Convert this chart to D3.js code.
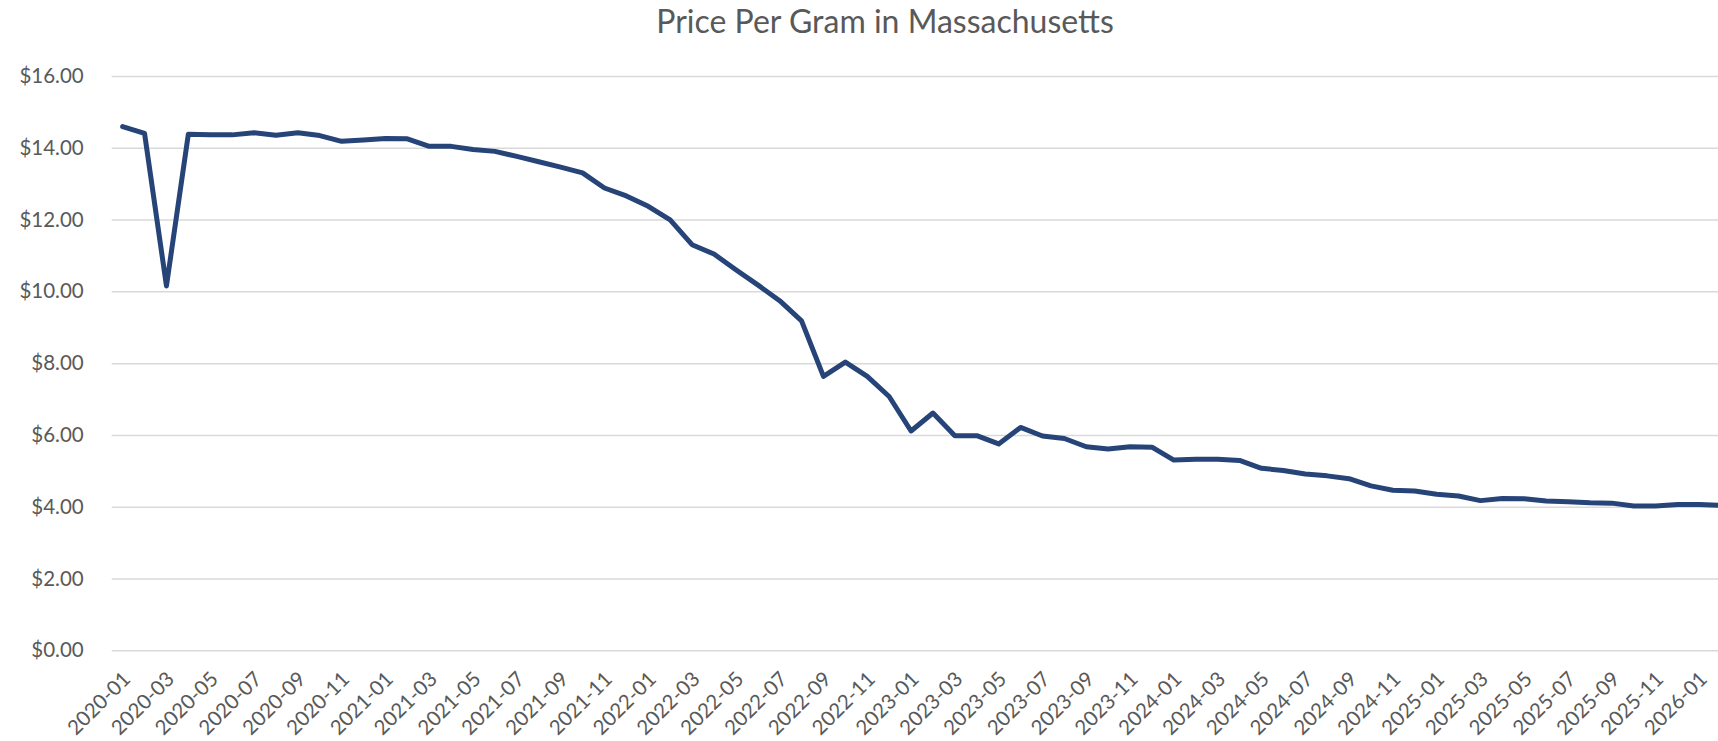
<!DOCTYPE html>
<html>
<head>
<meta charset="utf-8">
<script src="https://cdn.jsdelivr.net/npm/d3@7"></script>
<style>
  body { margin: 0; background: #fff; }
  text { font-family: Lato, "Open Sans", sans-serif; fill: #595959; }
</style>
</head>
<body>
<div id="chart"></div>
<script>
// months shown on the category axis
const months = [
    '2020-01','2020-02','2020-03','2020-04','2020-05','2020-06','2020-07','2020-08','2020-09','2020-10','2020-11','2020-12',
    '2021-01','2021-02','2021-03','2021-04','2021-05','2021-06','2021-07','2021-08','2021-09','2021-10','2021-11','2021-12',
    '2022-01','2022-02','2022-03','2022-04','2022-05','2022-06','2022-07','2022-08','2022-09','2022-10','2022-11','2022-12',
    '2023-01','2023-02','2023-03','2023-04','2023-05','2023-06','2023-07','2023-08','2023-09','2023-10','2023-11','2023-12',
    '2024-01','2024-02','2024-03','2024-04','2024-05','2024-06','2024-07','2024-08','2024-09','2024-10','2024-11','2024-12',
    '2025-01','2025-02','2025-03','2025-04','2025-05','2025-06','2025-07','2025-08','2025-09','2025-10','2025-11','2025-12',
    '2026-01','2026-02'
]

// average price per gram, one per month
const pricePerGram = [
    14.59, 14.40, 10.15, 14.38, 14.36, 14.36, 14.42, 14.35, 14.42, 14.34, 14.18, 14.22,
    14.26, 14.25, 14.04, 14.04, 13.95, 13.90, 13.76, 13.61, 13.46, 13.30, 12.88, 12.66,
    12.37, 11.99, 11.30, 11.04, 10.60, 10.18, 9.74, 9.18, 7.63, 8.03, 7.63, 7.07,
    6.11, 6.61, 5.98, 5.98, 5.75, 6.21, 5.97, 5.90, 5.67, 5.61, 5.67, 5.66,
    5.30, 5.32, 5.32, 5.29, 5.07, 5.01, 4.91, 4.86, 4.78, 4.58, 4.46, 4.44,
    4.35, 4.30, 4.17, 4.23, 4.22, 4.16, 4.14, 4.11, 4.10, 4.02, 4.02, 4.06,
    4.06, 4.04
]

const yTicks = [0, 2, 4, 6, 8, 10, 12, 14, 16]
const title = 'Price Per Gram in Massachusetts'

const W = 1718, H = 741
const m = {t: 76, l: 111.7, b: 650.3}
const step = 21.9
const lineColor = '#264478'

const svg = d3.select('#chart').append('svg')
    .attr('width', W).attr('height', H)

const x = d3.scaleBand()
    .domain(months)
    .range([m.l, m.l + step * months.length])
const y = d3.scaleLinear().domain([0, 16]).range([m.b, m.t])

// title
svg.append('text')
    .attr('x', 885).attr('y', 33)
    .attr('text-anchor', 'middle')
    .style('font-size', '32px')
    .text(title)

// horizontal gridlines + y labels
const yAxis = svg.append('g')
    .attr('transform', 'translate(' + m.l + ',0)')
    .call(d3.axisLeft(y).tickValues(yTicks)
        .tickSize(-(step * months.length))
        .tickPadding(28)
        .tickFormat(d => '$' + d3.format('.2f')(d)))
yAxis.select('.domain').remove()
yAxis.selectAll('line').attr('stroke', '#d9d9d9').attr('stroke-width', 1.5)
yAxis.selectAll('text').style('font-size', '20.5px').attr('fill', '#595959')

// category labels every other month, rotated
const xAxis = svg.append('g')
    .attr('transform', 'translate(0,' + m.b + ')')
    .call(d3.axisBottom(x).tickValues(months.filter((d, i) => i % 2 === 0)).tickSize(0))
xAxis.select('.domain').remove()
xAxis.selectAll('text')
    .style('font-size', '20.5px')
    .attr('fill', '#595959')
    .attr('text-anchor', 'end')
    .attr('dy', '0.35em')
    .attr('y', 0)
    .attr('transform', 'translate(4,25) rotate(-45)')

// the price line
const line = d3.line()
    .x((d, i) => x(months[i]) + x.bandwidth() / 2)
    .y(d => y(d))

svg.append('path')
    .datum(pricePerGram)
    .attr('d', line)
    .attr('fill', 'none')
    .attr('stroke', lineColor)
    .attr('stroke-width', 5)
    .attr('stroke-linejoin', 'round')
    .attr('stroke-linecap', 'round')
</script>
</body>
</html>
